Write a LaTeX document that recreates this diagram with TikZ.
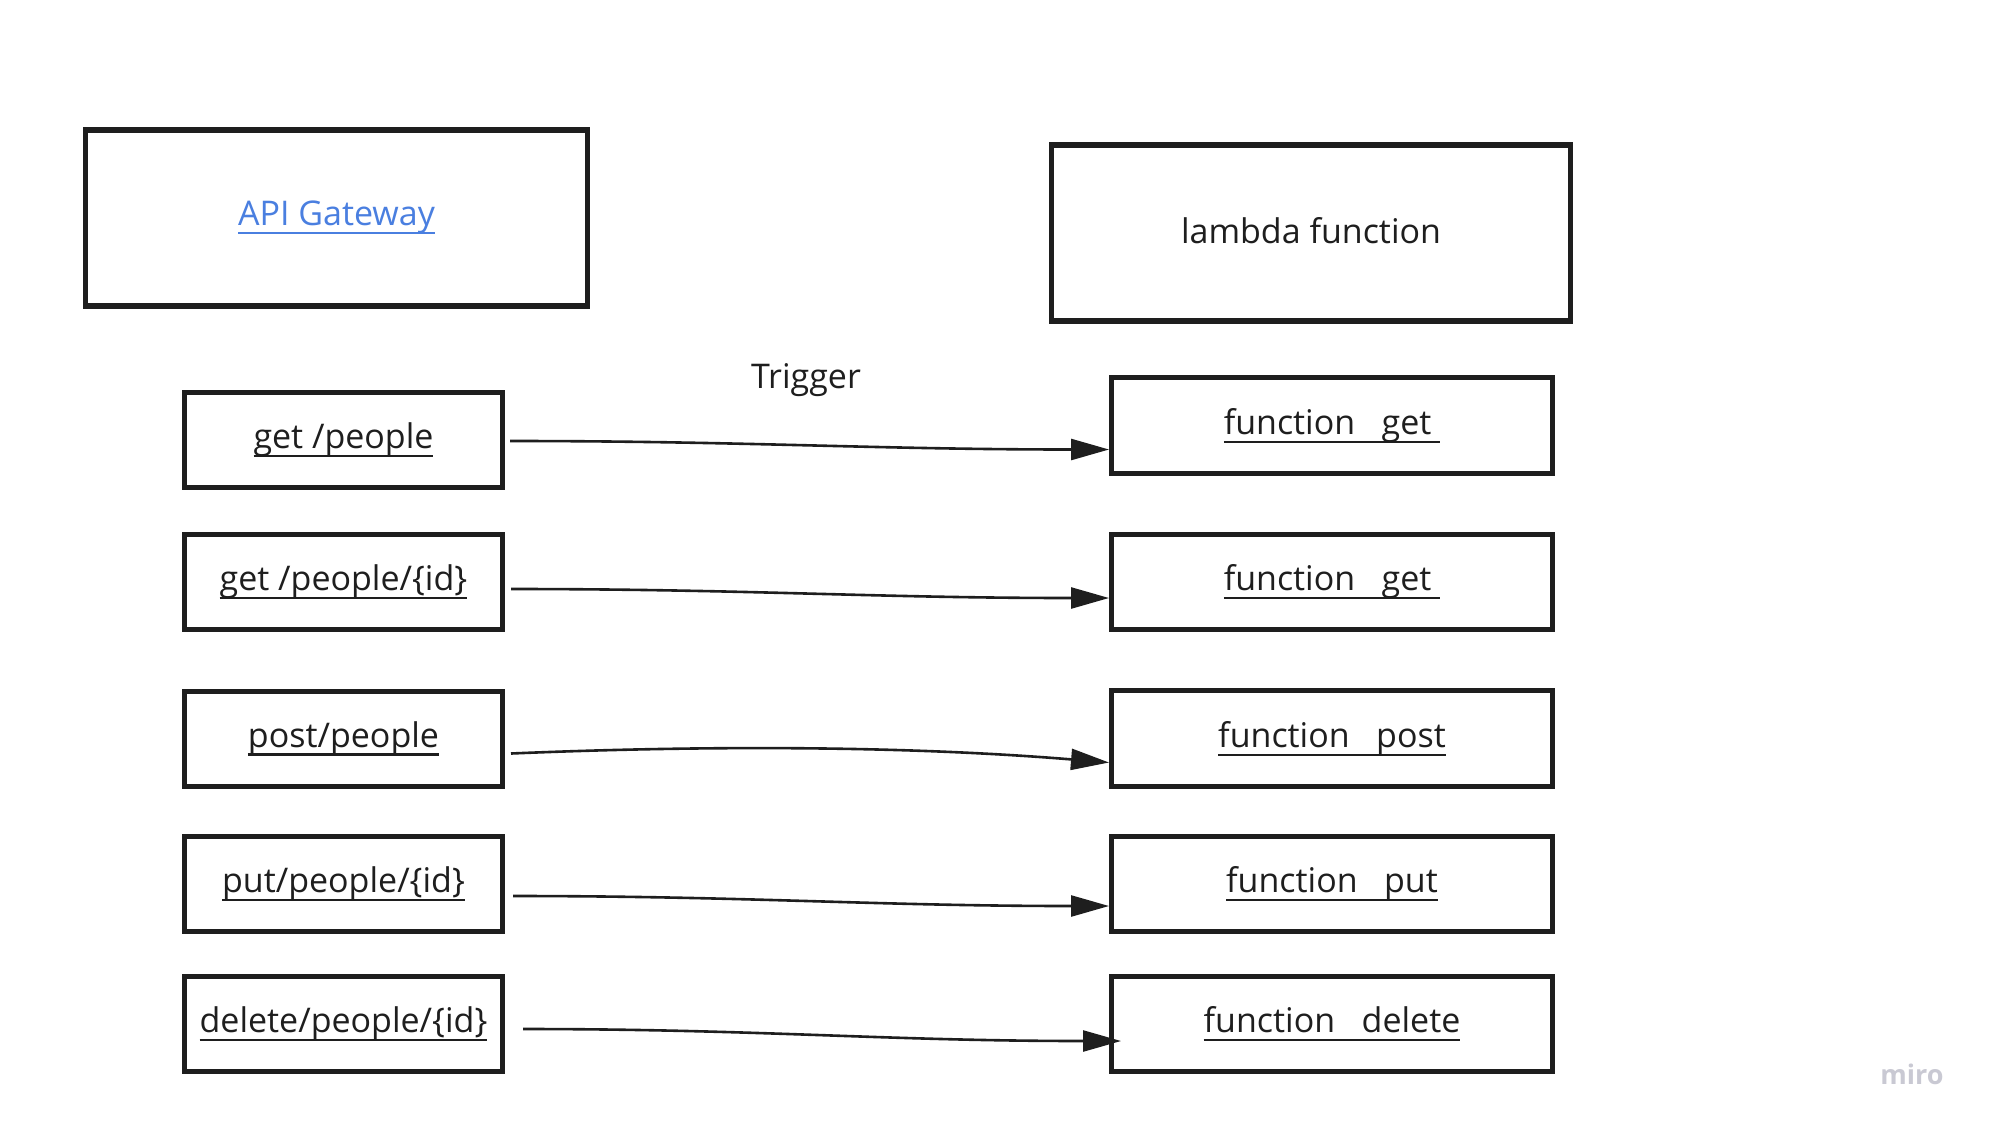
\documentclass[tikz,border=0pt]{standalone}
\usepackage{fontspec}
\setmainfont{Open Sans}
\usetikzlibrary{arrows.meta,calc}
\definecolor{ink}{HTML}{1E1E1E}
\definecolor{linkblue}{HTML}{4A7FE0}
\definecolor{mirogray}{HTML}{C9C9D3}
\newcommand\myul[1]{\setbox0=\hbox{#1}\rlap{\rule[-8.5pt]{\wd0}{2.2pt}}\box0}
\begin{document}
\begin{tikzpicture}[x=1pt,y=-1pt,
  txt/.style={font=\fontsize{34}{40}\selectfont, text=ink},
  bigbox/.style={draw=ink, line width=5.5pt, minimum height=176pt, inner sep=0pt, txt},
  lbox/.style={draw=ink, line width=5pt, minimum width=318pt, minimum height=95pt, inner sep=0pt, txt},
  rbox/.style={draw=ink, line width=5pt, minimum width=441pt, minimum height=95.5pt, inner sep=0pt, txt},
  arr/.style={draw=ink, line width=2.6pt, -{Triangle[length=38pt,width=21pt]}}]
\fill[white] (0,0) rectangle (1991,1130);
\useasboundingbox (0,0) rectangle (1991,1130);

\node[bigbox, minimum width=502pt, text=linkblue] (api) at (336.5,217.8) {\myul{API Gateway}};
\node[bigbox, minimum width=519pt, text depth=6pt] (lam) at (1311,233) {lambda function};
\node[txt] (trig) at (806,380) {Trigger};

\node[lbox] (L1) at (343.5,440) {\myul{get /people}};
\node[lbox] (L2) at (343.5,582) {\myul{get /people/\{id\}}};
\node[lbox] (L3) at (343.5,738.5) {\myul{post/people}};
\node[lbox] (L4) at (343.5,884) {\myul{put/people/\{id\}}};
\node[lbox] (L5) at (343.5,1024) {\myul{delete/people/\{id\}}};

\node[rbox] (R1) at (1332,425.5) {\myul{function\ \ \ get\ }};
\node[rbox] (R2) at (1332,582) {\myul{function\ \ \ get\ }};
\node[rbox] (R3) at (1332,738.5) {\myul{function\ \ \ post}};
\node[rbox] (R4) at (1332,884) {\myul{function\ \ \ put}};
\node[rbox] (R5) at (1332,1024) {\myul{function\ \ \ delete}};

\node[font=\bfseries\fontsize{27}{30}\selectfont, text=mirogray] (miro) at (1912,1074) {miro};

\draw[arr] ($(L1.east)+(5,1)$) to[out=0,in=180] ($(R1.west)+(0,24)$);
\draw[arr] ($(L2.east)+(6,7)$) to[out=0,in=180] ($(R2.west)+(0,16)$);
\draw[arr] ($(L3.east)+(6,15)$) .. controls +(190,-8) and +(-207,-17) .. ($(R3.west)+(0,24)$);
\draw[arr] ($(L4.east)+(8,12)$) to[out=0,in=180] ($(R4.west)+(0,22)$);
\draw[arr] ($(L5.east)+(18,5)$) to[out=0,in=180] ($(R5.west)+(12,17)$);
\end{tikzpicture}
\end{document}
